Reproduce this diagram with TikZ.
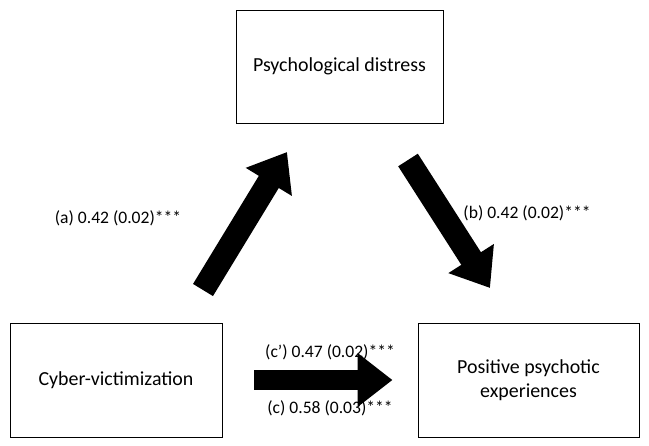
\documentclass[tikz,border=0pt]{standalone}
\usepackage{fontspec}
\setmainfont{Carlito}
\usetikzlibrary{arrows.meta,positioning}

\tikzset{
    box/.style={draw, line width=0.8pt, align=center, font=\fontsize{17}{20}\selectfont},
    path/.style={line width=0.7cm, -{Triangle[length=1.05cm, width=1.55cm]}},
    coef/.style={font=\fontsize{15}{18}\selectfont}
}

\begin{document}
\begin{tikzpicture}[x=0.03cm, y=-0.03cm]
    \useasboundingbox (0,0) rectangle (649,445);

    \node (distress) [box, minimum width=6.21cm, minimum height=3.39cm] at (339.5,66.5) {Psychological distress};
    \node (cyber) [box, minimum width=6.36cm, minimum height=3.42cm] at (116,380) {Cyber-victimization};
    \node (psychotic) [box, minimum width=6.63cm, minimum height=3.42cm] at (528.5,380) {Positive psychotic\\experiences};

    \coordinate (aFrom) at (203,290);
    \coordinate (aTo) at (287,152);
    \coordinate (bFrom) at (408,160);
    \coordinate (bTo) at (490,288);
    \coordinate (cFrom) at (cyber.east);
    \coordinate (cTo) at (psychotic.west);

    \draw [path] (aFrom) -- (aTo);
    \draw [path] (bFrom) -- (bTo);
    \draw [path, line width=0.6cm, shorten <=0.95cm, shorten >=0.75cm] (cFrom) -- (cTo);

    \node (coefA) [coef] at (118,218) {(a) 0.42 (0.02)***};
    \node (coefB) [coef] at (527,213) {(b) 0.42 (0.02)***};
    \node (coefC1) [coef] at (330,352) {(c') 0.47 (0.02)***};
    \node (coefC) [coef] at (330,408) {(c) 0.58 (0.03)***};
\end{tikzpicture}
\end{document}
